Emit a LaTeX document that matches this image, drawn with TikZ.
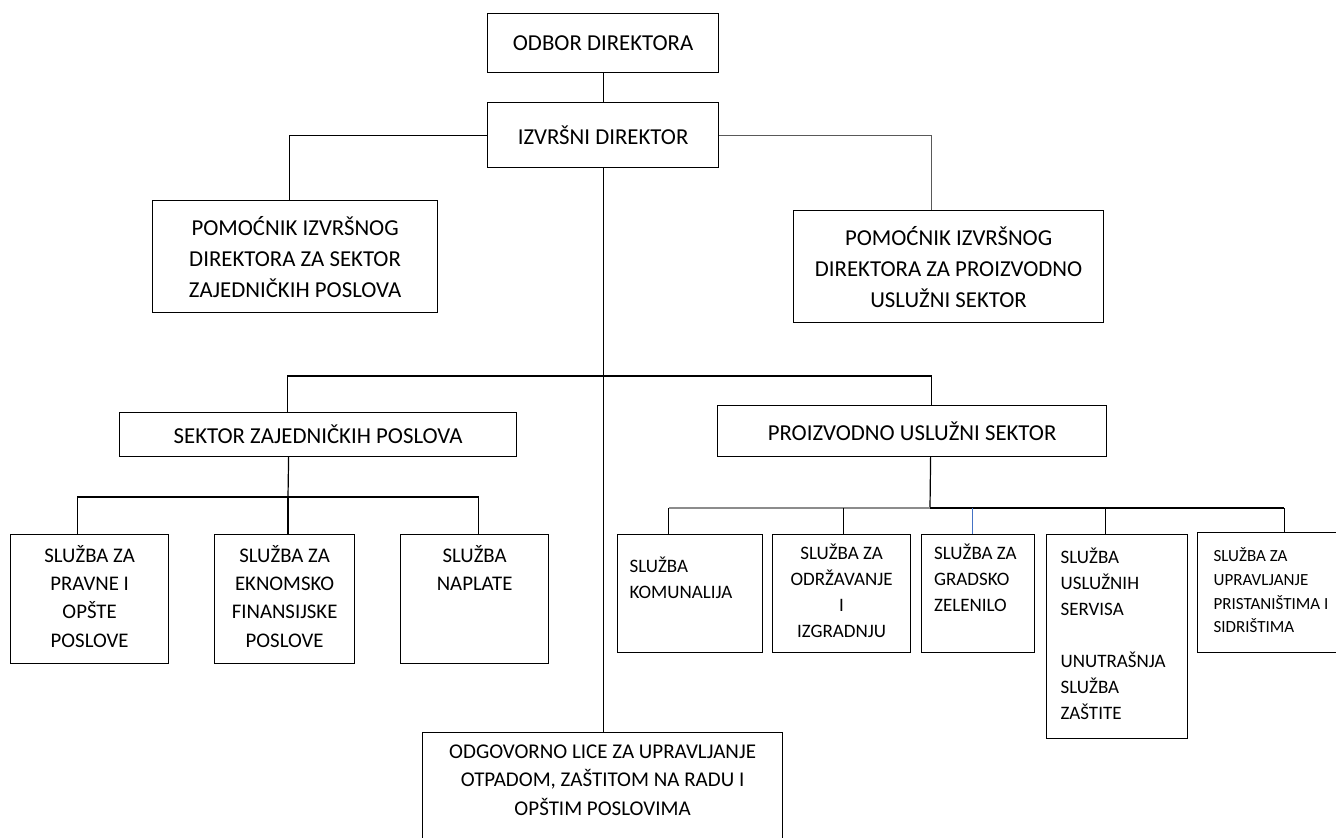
\documentclass[tikz,border=0pt]{standalone}
\usepackage{fontspec}
\setmainfont{Carlito}
\definecolor{accentblue}{RGB}{68,114,196}

\begin{document}
\begin{tikzpicture}[x=1pt, y=-1pt, line width=1.2pt,
  box/.style 2 args={draw, anchor=north west, inner sep=0pt, minimum width=#1, minimum height=#2},
  big/.style={font=\fontsize{22.8}{31}\selectfont, align=center},
  mid/.style={font=\fontsize{20.8}{28.3}\selectfont, align=center},
  small/.style={font=\fontsize{19}{26}\selectfont},
  tiny/.style={font=\fontsize{17}{23.7}\selectfont, align=flush left}]

\useasboundingbox (0,0) rectangle (1336,838);
\clip (0,0) rectangle (1336,838);

% board and director
\node[box={231pt}{59pt}, big] (odbor) at (487,13) {ODBOR DIREKTORA};
\node[box={231pt}{65pt}, big] (izvrsni) at (487,102) {IZVRŠNI DIREKTOR};

% assistants
\node[box={285pt}{112pt}, big] (pomzp) at (152,200)
  {POMOĆNIK IZVRŠNOG\\DIREKTORA ZA SEKTOR\\ZAJEDNIČKIH POSLOVA};
\node[box={310pt}{112pt}, big] (pompu) at (793,210)
  {POMOĆNIK IZVRŠNOG\\DIREKTORA ZA PROIZVODNO\\USLUŽNI SEKTOR};

% sectors
\node[box={397pt}{44pt}, big] (szp) at (119,412) {SEKTOR ZAJEDNIČKIH POSLOVA};
\node[box={389pt}{51pt}, big] (pus) at (717,405) {PROIZVODNO USLUŽNI SEKTOR};

% services, common affairs
\node[box={158pt}{129pt}, mid] (pravne) at (10,534)
  {\strut SLUŽBA ZA\\PRAVNE I\\OPŠTE\\POSLOVE\strut};
\node[box={140pt}{129pt}, mid] (ekon) at (214,534)
  {\strut SLUŽBA ZA\\EKNOMSKO\\FINANSIJSKE\\POSLOVE\strut};
\node[box={148pt}{129pt}, mid] (naplate) at (400,534)
  {\strut SLUŽBA\\NAPLATE\\\strut\\\strut};

% services, production sector
\node[box={145pt}{118pt}, small, text width=121pt, align=flush left] (komun) at (617,534)
  {\strut SLUŽBA\\KOMUNALIJA\\\strut};
\node[box={138pt}{118pt}, small, align=center] (odrz) at (772,534)
  {\strut SLUŽBA ZA\\ODRŽAVANJE\\I\\IZGRADNJU\strut};
\node[box={113pt}{118pt}, small, text width=88pt, align=flush left] (zelen) at (921,534)
  {\strut SLUŽBA ZA\\GRADSKO\\ZELENILO\\\strut};
\node[box={141pt}{204pt}, small, text width=113pt, align=flush left] (usluz) at (1046,534)
  {\strut SLUŽBA\\USLUŽNIH\\SERVISA\\\strut\\UNUTRAŠNJA\\SLUŽBA\\ZAŠTITE\strut};
\node[box={160pt}{120pt}, tiny, text width=128pt] (prist) at (1197,532)
  {\strut SLUŽBA ZA\\UPRAVLJANJE\\PRISTANIŠTIMA I\\SIDRIŠTIMA\strut};

% waste management
\node[box={360pt}{154pt}, font=\fontsize{21}{28.5}\selectfont, align=center] (odg) at (422,732)
  {\strut ODGOVORNO LICE ZA UPRAVLJANJE\\OTPADOM, ZAŠTITOM NA RADU I\\OPŠTIM POSLOVIMA\\\strut\\\strut};

% top links
\draw (odbor) -- (izvrsni);
\draw (izvrsni.west) -| ([xshift=-5.5pt]pomzp.north);
\draw[black!65] (izvrsni.east) -| ([xshift=-17pt]pompu.north);
\draw (izvrsni.south) -- (izvrsni.south |- odg.north);

% sector bus
\coordinate (upbus) at (602,376);
\draw ([xshift=-30.5pt]szp.north) |- (upbus) -| ([xshift=19.5pt]pus.north);

% common affairs bus
\coordinate (leftbus) at (288,497);
\draw ([xshift=-29.5pt]szp.south) -- (leftbus);
\draw ([xshift=-12.5pt]pravne.north) |- (leftbus) -| ([xshift=4pt]naplate.north);
\draw (leftbus) -- (leftbus |- ekon.north);

% production bus
\coordinate (rightbus) at (930,508);
\path
([xshift=-21.5pt]komun.north) coordinate (komun-in)
([xshift=2pt]odrz.north) coordinate (odrz-in)
([xshift=-5.5pt]zelen.north) coordinate (zelen-in)
([xshift=-11.5pt]usluz.north) coordinate (usluz-in)
([xshift=6.5pt]prist.north) coordinate (prist-in)
;
\draw ([xshift=18.5pt]pus.south) -- (rightbus);
\draw[black!45] (komun-in |- rightbus) -- (rightbus);
\draw (rightbus) -- (prist-in |- rightbus);
\draw (komun-in) -- (komun-in |- rightbus);
\draw (odrz-in) -- (odrz-in |- rightbus);
\draw[accentblue] (zelen-in) -- (zelen-in |- rightbus);
\draw (usluz-in) -- (usluz-in |- rightbus);
\draw (prist-in) -- (prist-in |- rightbus);

\end{tikzpicture}
\end{document}
